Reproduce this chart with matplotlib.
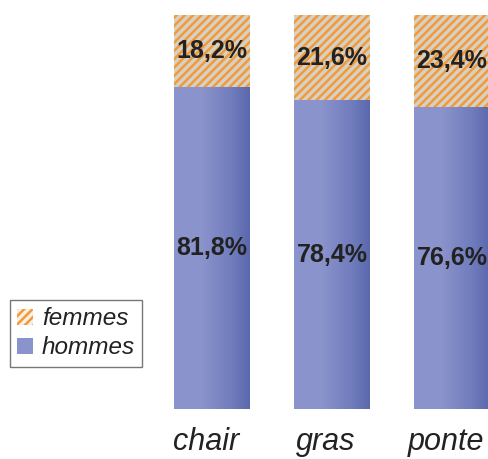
import numpy as np
import matplotlib
matplotlib.use("Agg")
import matplotlib.pyplot as plt
from matplotlib.patches import Patch
from matplotlib.colors import LinearSegmentedColormap

categories = ["chair", "gras", "ponte"]
hommes = [81.8, 78.4, 76.6]
femmes = [18.2, 21.6, 23.4]
hommes_labels = ["81,8%", "78,4%", "76,6%"]
femmes_labels = ["18,2%", "21,6%", "23,4%"]

plt.rcParams['font.family'] = ['Liberation Sans', 'DejaVu Sans']
plt.rcParams['hatch.linewidth'] = 1.8
plt.rcParams['hatch.color'] = '#f29a3a'

W, H = 488, 459
fig = plt.figure(figsize=(W / 100, H / 100), dpi=100)
ax = fig.add_axes([0, 0, 1, 1])

ppu_x = 120.0
x0_px = 212.0
ax.set_xlim(-x0_px / ppu_x, (W - x0_px) / ppu_x)
ppu_y = 394 / 100.0
bottom_px = 409
ax.set_ylim(-(H - bottom_px) / ppu_y, 100 + 15 / ppu_y)

x = np.arange(len(categories))
width = 76 / ppu_x

bars_h = ax.bar(x, hommes, width, color='#7b86c2', linewidth=0, zorder=2)
bars_f = ax.bar(x, femmes, width, bottom=hommes, color='#d6d1c4',
                edgecolor='#f29a3a', hatch='////', linewidth=0, zorder=2)

# horizontal gradient on the hommes bars
grad = np.linspace(0, 1, 256)
cmap = LinearSegmentedColormap.from_list(
    'g', [(0, '#8a93cc'), (0.35, '#8c94cc'), (0.75, '#717dbd'), (1, '#5a69ad')])
for b in bars_h:
    xl, yb = b.get_x(), b.get_y()
    im = ax.imshow(grad[None, :], cmap=cmap, aspect='auto',
                   extent=[xl, xl + b.get_width(), yb, yb + b.get_height()],
                   zorder=2.5, interpolation='bilinear')
    im.set_clip_path(b)

for i in range(len(categories)):
    ax.text(x[i], hommes[i] / 2, hommes_labels[i], ha='center', va='center',
            fontsize=18, fontweight='bold', color='#222222', zorder=4)
    ax.text(x[i], hommes[i] + femmes[i] / 2, femmes_labels[i], ha='center',
            va='center', fontsize=18, fontweight='bold', color='#222222', zorder=4)
    ax.text(x[i] - 6 / ppu_x, -4.5, categories[i], ha='center', va='top',
            fontsize=22, style='italic', color='#222222')

ax.axis('off')

handles = [Patch(facecolor='#f8efe4', edgecolor='#f29a3a', hatch='////', linewidth=0),
           Patch(facecolor='#8a93cc', linewidth=0)]
leg = fig.legend(handles, ['femmes', 'hommes'], loc='upper left',
                 bbox_to_anchor=(10 / W, 1 - 300 / H),
                 prop={'style': 'italic', 'size': 17.5},
                 frameon=True, fancybox=False, handlelength=0.66, handleheight=0.66,
                 handletextpad=0.35, borderpad=0.3, labelspacing=0.25,
                 borderaxespad=0)
leg.get_frame().set_edgecolor('#555555')
leg.get_frame().set_linewidth(1.0)
for t in leg.get_texts():
    t.set_color('#222222')

fig.savefig('out.png', dpi=100)
